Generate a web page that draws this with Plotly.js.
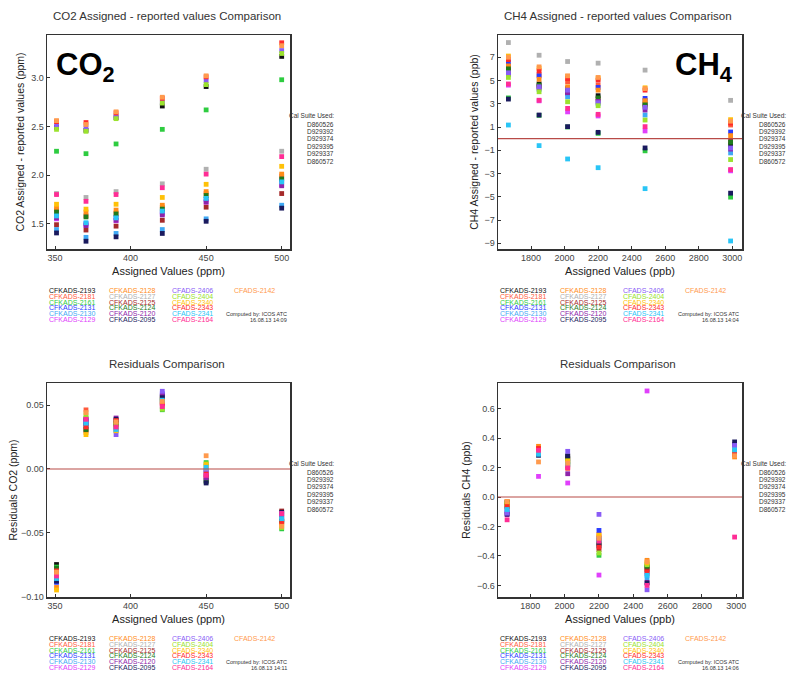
<!DOCTYPE html>
<html>
<head>
<meta charset="utf-8">
<script src="https://cdn.plot.ly/plotly-3.0.1.min.js"></script>
<style>html,body{margin:0;padding:0;background:#fff;}#chart{width:787px;height:675px;}</style>
</head>
<body>
<div id="chart"></div>
<script>
// ---------------- DATA ----------------
const seriesNames = ["CFKADS-2193","CFKADS-2181","CFKADS-2161","CFKADS-2131","CFKADS-2130","CFKADS-2129",
  "CFKADS-2128","CFKADS-2127","CFKADS-2125","CFKADS-2124","CFKADS-2120","CFKADS-2095",
  "CFADS-2406","CFADS-2404","CFADS-2340","CFADS-2343","CFADS-2341","CFADS-2164","CFADS-2142"];
const seriesColors = ["#111111","#ff5a3c","#2ecc40","#2a3cff","#3fa9f5","#e040fb",
  "#ff8c1a","#b0b0b0","#a52a2a","#1e7b1e","#8e24aa","#1a1a5e",
  "#8a5cf6","#9be22d","#ffc107","#ff2a2a","#29c5f6","#ff2d95","#ff9a4d"];

const co2Assigned = [351, 370.5, 390.4, 421, 450, 500];
const ch4Assigned = [1665, 1848, 2018, 2200, 2480, 2990];

const co2Diff = [
  [2.49,2.46,2.59,2.71,2.91,3.22],
  [1.64,1.58,1.61,1.67,1.81,1.99],
  [2.245,2.22,2.32,2.47,2.67,2.98],
  [1.585,1.50,1.565,1.62,1.75,1.94],
  [1.44,1.36,1.40,1.44,1.55,1.69],
  [1.55,1.49,1.53,1.60,1.72,1.90],
  [1.66,1.62,1.64,1.69,1.83,2.01],
  [1.81,1.77,1.83,1.91,2.06,2.245],
  [1.49,1.435,1.475,1.535,1.67,1.81],
  [1.62,1.57,1.60,1.65,1.79,1.96],
  [1.56,1.48,1.535,1.59,1.725,1.89],
  [1.405,1.32,1.365,1.40,1.525,1.66],
  [2.51,2.49,2.61,2.75,2.97,3.28],
  [2.47,2.45,2.58,2.74,2.93,3.25],
  [1.70,1.65,1.70,1.77,1.905,2.09],
  [2.55,2.54,2.64,2.79,3.01,3.36],
  [1.58,1.51,1.56,1.63,1.76,1.93],
  [1.80,1.73,1.80,1.87,2.01,2.19],
  [2.56,2.52,2.65,2.80,3.02,3.33]
];
const ch4Diff = [
  [6.1,4.7,4.3,3.69,3.0,-0.54],
  [6.3,5.5,4.9,4.6,3.3,1.17],
  [3.5,2.0,1.0,0.45,-1.05,-5.03],
  [6.6,5.4,3.9,4.4,3.46,0.57],
  [5.5,4.23,3.6,3.0,2.03,-1.23],
  [4.6,3.25,2.3,1.95,0.66,-2.77],
  [6.25,5.1,4.46,4.17,3.26,0.26],
  [8.26,7.17,6.63,6.49,5.89,3.29],
  [5.9,4.5,4.0,3.4,2.8,-0.2],
  [6.0,4.6,4.1,3.5,2.9,-0.31],
  [5.55,4.35,3.95,3.2,2.46,-0.9],
  [3.4,2.03,1.03,0.54,-0.8,-4.69],
  [5.66,4.46,4.17,3.09,2.69,-0.8],
  [5.26,4.03,3.17,2.83,1.6,-1.8],
  [7.1,6.05,5.35,5.2,4.37,1.63],
  [6.8,5.83,5.17,5.03,4.17,1.34],
  [1.17,-0.6,-1.75,-2.5,-4.3,-8.8],
  [4.7,3.3,2.6,2.09,1.03,-2.66],
  [7.0,6.17,5.4,5.26,4.3,1.5]
];
const co2Resid = [
  [-0.075,0.034,0.033,0.057,-0.009,-0.041],
  [-0.079,0.0464,0.038,0.051,-0.002,-0.038],
  [-0.077,0.040,0.036,0.0465,0.005,-0.047],
  [-0.089,0.035,0.031,0.059,-0.001,-0.040],
  [-0.087,0.035,0.030,0.053,0.000,-0.040],
  [-0.082,0.039,0.032,0.050,-0.005,-0.037],
  [-0.093,0.0287,0.034,0.055,0.002,-0.043],
  [-0.080,0.032,0.033,0.054,-0.001,-0.039],
  [-0.079,0.0305,0.035,0.052,-0.006,-0.033],
  [-0.078,0.031,0.036,0.055,-0.010,-0.041],
  [-0.085,0.037,0.040,0.058,-0.007,-0.036],
  [-0.088,0.0385,0.039,0.056,-0.011,-0.034],
  [-0.083,0.038,0.027,0.061,-0.003,-0.035],
  [-0.083,0.0425,0.035,0.047,0.004,-0.046],
  [-0.095,0.027,0.030,0.053,0.0034,-0.044],
  [-0.080,0.033,0.038,0.051,-0.004,-0.042],
  [-0.086,0.036,0.031,0.054,0.0013,-0.039],
  [-0.084,0.039,0.033,0.049,-0.005,-0.035],
  [-0.081,0.0443,0.037,0.053,0.0104,-0.045]
];
const ch4Resid = [
  [-0.035,0.29,0.275,-0.32,-0.48,0.31],
  [-0.05,0.325,0.21,-0.254,-0.494,0.29],
  [-0.06,0.31,0.23,-0.396,-0.46,0.306],
  [-0.08,0.31,0.24,-0.227,-0.52,0.33],
  [-0.09,0.30,0.22,-0.29,-0.548,0.32],
  [-0.10,0.14,0.095,-0.53,0.72,0.34],
  [-0.03,0.344,0.227,-0.27,-0.43,0.272],
  [-0.07,0.32,0.25,-0.30,-0.50,0.33],
  [-0.06,0.31,0.26,-0.358,-0.49,0.30],
  [-0.04,0.30,0.26,-0.31,-0.47,0.306],
  [-0.12,0.30,0.158,-0.28,-0.58,0.358],
  [-0.115,0.283,0.28,-0.33,-0.584,0.374],
  [-0.11,0.30,0.31,-0.118,-0.63,0.35],
  [-0.05,0.31,0.24,-0.38,-0.46,0.31],
  [-0.045,0.33,0.245,-0.26,-0.448,0.29],
  [-0.065,0.33,0.195,-0.34,-0.51,0.29],
  [-0.085,0.29,0.22,-0.29,-0.532,0.32],
  [-0.155,0.317,0.20,-0.30,-0.60,-0.272],
  [-0.03,0.238,0.23,-0.28,-0.44,0.28]
];
const calSuite = ["D860526","D929392","D929374","D929395","D929337","D860572"];
const panelTitles = ["CO2 Assigned - reported values Comparison","CH4 Assigned - reported values Comparison","Residuals Comparison","Residuals Comparison"];
const xTitles = ["Assigned Values (ppm)","Assigned Values (ppb)","Assigned Values (ppm)","Assigned Values (ppb)"];
const yTitles = ["CO2 Assigned - reported values (ppm)","CH4 Assigned - reported values (ppb)","Residuals CO2 (ppm)","Residuals CH4 (ppb)"];
const computedDates = ["16.08.13 14:09","16.08.13 14:04","16.08.13 14:11","16.08.13 14:06"];
const co2XTicks = [350,400,450,500];
const ch4XTicks = [1800,2000,2200,2400,2600,2800,3000];
const co2DiffYTicks = [1.5,2.0,2.5,3.0];
const ch4DiffYTicks = [-9,-7,-5,-3,-1,1,3,5,7];
const co2ResYTicks = [-0.10,-0.05,0.00,0.05];
const ch4ResYTicks = [-0.6,-0.4,-0.2,0.0,0.2,0.4,0.6];

// ---------------- LAYOUT HELPERS ----------------
const W = 787, H = 675;
const FONT = "Liberation Sans, Arial, sans-serif";
const px = v => v / W;
const py = v => 1 - v / H;
// plot boxes in pixels: [left, right, top, bottom]
const boxes = [[47,290,35,249],[498,742,35,249],[47,290,383,597],[498,742,383,597]];

const traces = [];
const panelData = [[co2Assigned, co2Diff],[ch4Assigned, ch4Diff],[co2Assigned, co2Resid],[ch4Assigned, ch4Resid]];
panelData.forEach((pd, p) => {
  const sfx = p === 0 ? "" : String(p + 1);
  seriesNames.forEach((name, i) => {
    traces.push({
      type: "scatter", mode: "markers",
      x: pd[0], y: pd[1][i],
      xaxis: "x" + sfx, yaxis: "y" + sfx,
      name: name, showlegend: false,
      marker: {color: seriesColors[i], size: 4.8, symbol: "square", line: {width: 0}},
      hoverinfo: "x+y+name"
    });
  });
});

function axisBase(extra) {
  return Object.assign({
    showgrid: false, zeroline: false, showline: true, mirror: true,
    linecolor: "#333", linewidth: 1.5,
    ticks: "inside", ticklen: 3, tickcolor: "#333", tickwidth: 1,
    tickfont: {family: FONT, size: 9, color: "#444"},
    fixedrange: true
  }, extra);
}

const layout = {
  width: W, height: H,
  margin: {l: 0, r: 0, t: 0, b: 0},
  paper_bgcolor: "#fff", plot_bgcolor: "#fff",
  font: {family: FONT, color: "#333"},
  showlegend: false,
  shapes: [], annotations: []
};

const xRanges = [[344.7,505.5],[1603,3058],[344.7,505.5],[1612,3033]];
const yRanges = [[1.24,3.44],[-9.49,8.91],[-0.1005,0.0675],[-0.679,0.774]];
const xTicks = [co2XTicks, ch4XTicks, co2XTicks, ch4XTicks];
const yTicks = [co2DiffYTicks, ch4DiffYTicks, co2ResYTicks, ch4ResYTicks];
const yFormats = [".1f", "d", ".2f", ".1f"];
const yStandoffs = [4, 4, 1, 4];

boxes.forEach((b, p) => {
  const sfx = p === 0 ? "" : String(p + 1);
  layout["xaxis" + sfx] = axisBase({
    domain: [px(b[0]), px(b[1])], anchor: "y" + sfx, range: xRanges[p],
    tickvals: xTicks[p],
    title: {text: xTitles[p], font: {family: FONT, size: 11, color: "#222"}, standoff: 5}
  });
  layout["yaxis" + sfx] = axisBase({
    domain: [py(b[3]), py(b[2])], anchor: "x" + sfx, range: yRanges[p],
    tickvals: yTicks[p], tickformat: yFormats[p],
    title: {text: yTitles[p], font: {family: FONT, size: 10.5, color: "#222"}, standoff: yStandoffs[p]}
  });
  // zero reference line (not on CO2 difference plot)
  if (p > 0) {
    layout.shapes.push({type: "line", xref: "x" + sfx + " domain", x0: 0, x1: 1,
      yref: "y" + sfx, y0: 0, y1: 0, line: {color: "#b84a47", width: 1.2}});
  }
  // panel title
  layout.annotations.push({xref: "paper", yref: "paper", x: px((b[0] + b[1]) / 2 - 2), y: py(b[2] - 19),
    text: panelTitles[p], showarrow: false, xanchor: "center", yanchor: "middle",
    font: {family: FONT, size: 11.5, color: "#333"}});
  // colored legend text
  seriesNames.forEach((name, i) => {
    const col = Math.floor(i / 6), row = i % 6;
    const colOff = [0, 60, 123, 185][col];
    layout.annotations.push({xref: "paper", yref: "paper",
      x: px(b[0] + colOff), y: py(b[2] + 255.5 + row * 5.8),
      text: name, showarrow: false, xanchor: "left", yanchor: "middle",
      font: {family: FONT, size: 7, color: seriesColors[i]}});
  });
  // computed by
  layout.annotations.push({xref: "paper", yref: "paper", x: px(b[1] - 1), y: py(b[2] + 279),
    text: "Computed by: ICOS ATC", showarrow: false, xanchor: "right", yanchor: "middle",
    font: {family: FONT, size: 5.5, color: "#333"}});
  layout.annotations.push({xref: "paper", yref: "paper", x: px(b[1] - 1), y: py(b[2] + 284.5),
    text: computedDates[p], showarrow: false, xanchor: "right", yanchor: "middle",
    font: {family: FONT, size: 5.5, color: "#333"}});
  // cal suite
  layout.annotations.push({xref: "paper", yref: "paper", x: px(b[1] + 46), y: py(b[2] + 81),
    text: "Cal Suite Used:", showarrow: false, xanchor: "right", yanchor: "middle",
    font: {family: FONT, size: 6.5, color: "#333"}});
  calSuite.forEach((c, k) => {
    layout.annotations.push({xref: "paper", yref: "paper", x: px(b[1] + 46), y: py(b[2] + 89 + k * 7.4),
      text: c, showarrow: false, xanchor: "right", yanchor: "middle",
      font: {family: FONT, size: 6.5, color: "#333"}});
  });
});

// big gas labels
layout.annotations.push({xref: "paper", yref: "paper", x: px(54), y: py(67),
  text: "<b>CO<sub>2</sub></b>", showarrow: false, xanchor: "left", yanchor: "middle",
  font: {family: FONT, size: 31, color: "#000"}});
layout.annotations.push({xref: "paper", yref: "paper", x: px(734), y: py(67),
  text: "<b>CH<sub>4</sub></b>", showarrow: false, xanchor: "right", yanchor: "middle",
  font: {family: FONT, size: 31, color: "#000"}});

Plotly.newPlot("chart", traces, layout, {staticPlot: true, displayModeBar: false});
</script>
</body>
</html>
